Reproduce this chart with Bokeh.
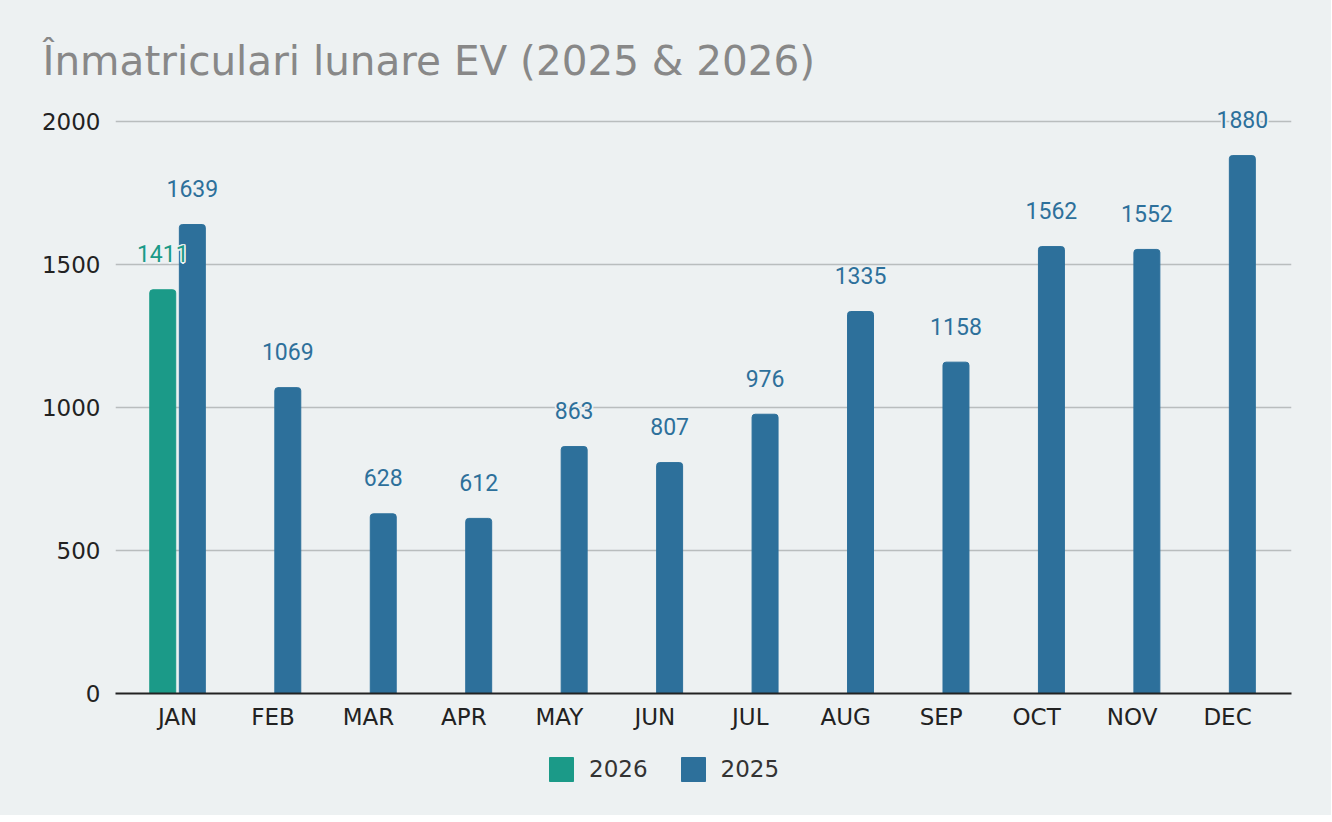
from bokeh.plotting import figure
from bokeh.layouts import column
from bokeh.models import Range1d, FixedTicker, Legend, ColumnDataSource
from bokeh.core.properties import value
from bokeh.embed import file_html
from bokeh.resources import INLINE

months = ["JAN", "FEB", "MAR", "APR", "MAY", "JUN", "JUL", "AUG", "SEP", "OCT", "NOV", "DEC"]
values_2025 = [1639, 1069, 628, 612, 863, 807, 976, 1335, 1158, 1562, 1552, 1880]
values_2026 = [1411]
y_ticks = [0, 500, 1000, 1500, 2000]
series_names = ["2026", "2025"]

BG = "#edf1f2"
GREEN = "#1b9a88"
BLUE = "#2d709b"

idx25 = list(range(len(values_2025)))
idx26 = list(range(len(values_2026)))
OFF = 0.155
BW = 0.272

src25 = ColumnDataSource(dict(x=[i + OFF for i in idx25], top=values_2025,
                              label=[str(v) for v in values_2025]))
src26 = ColumnDataSource(dict(x=[i - OFF for i in idx26], top=values_2026,
                              label=[str(v) for v in values_2026]))

p = figure(frame_width=1176, frame_height=598, output_backend="svg", toolbar_location=None,
           x_range=Range1d(-0.65, len(months) - 1 + 0.67), y_range=Range1d(0, 2090),
           min_border_left=115, min_border_right=40, min_border_top=95, min_border_bottom=50)

p.background_fill_color = BG
p.border_fill_color = BG
p.outline_line_color = None

p.title.text = "Înmatriculari lunare EV (2025 & 2026)"
p.title.text_font = "DejaVu Sans"
p.title.text_font_size = "40.5px"
p.title.text_font_style = "normal"
p.title.text_color = "#888888"
p.title.align = "left"
p.title.offset = -73
p.title.standoff = 22

r26 = p.vbar(x="x", top="top", width=BW, source=src26, color=GREEN,
             border_radius=(3, 3, 0, 0))
r25 = p.vbar(x="x", top="top", width=BW, source=src25, color=BLUE,
             border_radius=(3, 3, 0, 0))

# value labels with a halo
for src, col in ((src26, GREEN), (src25, BLUE)):
    for dx, dy in ((-1.5, 0), (1.5, 0), (0, -1.5), (0, 1.5), (-1.2, -1.2), (1.2, 1.2), (-1.2, 1.2), (1.2, -1.2)):
        p.text(x="x", y="top", text="label", source=src, x_offset=dx, y_offset=-36 + dy,
               text_font=value("Roboto"), text_font_size="23px", text_color=BG,
               text_align="center", text_baseline="middle")
    p.text(x="x", y="top", text="label", source=src, y_offset=-36,
           text_font=value("Roboto"), text_font_size="23px", text_color=col,
           text_align="center", text_baseline="middle")

# axes
p.xaxis.ticker = FixedTicker(ticks=list(range(len(months))))
p.xaxis.major_label_overrides = {i: m for i, m in enumerate(months)}
p.xaxis.axis_line_color = "#222222"
p.xaxis.axis_line_width = 2
p.xaxis.major_tick_line_color = None
p.xaxis.major_tick_out = 0
p.xaxis.minor_tick_line_color = None
p.xaxis.major_label_standoff = 10
p.xaxis.major_label_text_font = "DejaVu Sans"
p.xaxis.major_label_text_font_size = "23px"
p.xaxis.major_label_text_color = "#222222"

p.yaxis.ticker = FixedTicker(ticks=y_ticks)
p.yaxis.axis_line_color = None
p.yaxis.major_tick_line_color = None
p.yaxis.major_tick_out = 0
p.yaxis.minor_tick_line_color = None
p.yaxis.major_label_standoff = 15
p.yaxis.major_label_text_font = "DejaVu Sans"
p.yaxis.major_label_text_font_size = "23px"
p.yaxis.major_label_text_color = "#222222"

p.xgrid.grid_line_color = None
p.ygrid.ticker = FixedTicker(ticks=y_ticks)
p.ygrid.grid_line_color = "#b9bdbe"
p.ygrid.grid_line_width = 1.5

# legend strip below the chart (swatches drawn off-range, only their legend glyphs show)
lg = figure(width=1331, height=72, output_backend="svg", toolbar_location=None,
            x_range=Range1d(0, 1), y_range=Range1d(0, 1),
            x_axis_location=None, y_axis_location=None,
            min_border_left=0, min_border_right=0, min_border_top=0, min_border_bottom=0)
lg.background_fill_color = BG
lg.border_fill_color = BG
lg.outline_line_color = None
lg.grid.visible = False
l26 = lg.vbar(x=[-10], top=[0], width=0.1, color=GREEN, border_radius=3)
l25 = lg.vbar(x=[-10], top=[0], width=0.1, color=BLUE, border_radius=3)

legend = Legend(items=[(series_names[0], [l26]), (series_names[1], [l25])], orientation="horizontal",
                location=(431, 31), background_fill_alpha=0, border_line_color=None,
                glyph_width=30, glyph_height=30, label_standoff=13, spacing=30,
                label_text_font="DejaVu Sans", label_text_font_size="23px",
                label_text_color="#333333", margin=0, padding=0)
lg.add_layout(legend)

layout = column(p, lg, spacing=0)
layout.styles = {"background-color": BG}

html = file_html(layout, INLINE)
html = html.replace("<body>", '<body style="background-color: #edf1f2;">', 1)
open("out.html", "w").write(html)
